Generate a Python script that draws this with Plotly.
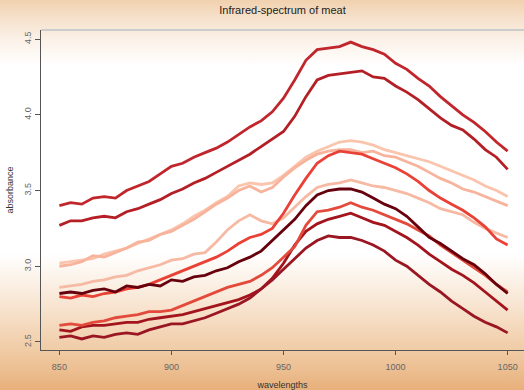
import base64
import plotly.graph_objects as go

wavelengths = list(range(850, 1051, 5))

L1 = [3.40, 3.42, 3.41, 3.45, 3.46, 3.45, 3.50, 3.53, 3.56, 3.61, 3.66, 3.68, 3.72, 3.75, 3.78, 3.82, 3.87, 3.92, 3.96, 4.02,
      4.11, 4.23, 4.36, 4.43, 4.44, 4.45, 4.48, 4.45, 4.43, 4.40, 4.34, 4.30, 4.24, 4.19, 4.12, 4.06, 4.00, 3.95, 3.89, 3.82, 3.76]
L2 = [3.27, 3.30, 3.30, 3.32, 3.33, 3.32, 3.36, 3.38, 3.41, 3.44, 3.48, 3.51, 3.55, 3.58, 3.62, 3.66, 3.70, 3.74, 3.79, 3.84,
      3.89, 3.99, 4.12, 4.23, 4.26, 4.27, 4.28, 4.29, 4.25, 4.24, 4.19, 4.15, 4.10, 4.04, 3.98, 3.93, 3.90, 3.84, 3.77, 3.72, 3.64]
P1 = [3.02, 3.03, 3.04, 3.05, 3.08, 3.10, 3.12, 3.15, 3.18, 3.21, 3.24, 3.28, 3.33, 3.37, 3.42, 3.46, 3.53, 3.55, 3.54, 3.55,
      3.60, 3.66, 3.72, 3.76, 3.79, 3.82, 3.83, 3.82, 3.80, 3.77, 3.75, 3.73, 3.71, 3.69, 3.66, 3.63, 3.60, 3.57, 3.53, 3.50, 3.46]
P2 = [3.00, 3.01, 3.03, 3.07, 3.06, 3.09, 3.12, 3.16, 3.17, 3.21, 3.23, 3.27, 3.31, 3.36, 3.41, 3.45, 3.50, 3.53, 3.49, 3.52,
      3.59, 3.65, 3.70, 3.74, 3.76, 3.77, 3.77, 3.75, 3.76, 3.73, 3.72, 3.69, 3.66, 3.62, 3.58, 3.55, 3.51, 3.49, 3.46, 3.43, 3.40]
P3 = [2.86, 2.87, 2.88, 2.90, 2.91, 2.93, 2.94, 2.97, 2.99, 3.01, 3.04, 3.05, 3.08, 3.09, 3.16, 3.24, 3.30, 3.34, 3.30, 3.28,
      3.32, 3.39, 3.46, 3.52, 3.54, 3.55, 3.57, 3.55, 3.53, 3.52, 3.50, 3.48, 3.45, 3.42, 3.38, 3.36, 3.34, 3.29, 3.25, 3.22, 3.19]
RO1 = [2.80, 2.79, 2.81, 2.80, 2.82, 2.83, 2.85, 2.86, 2.88, 2.91, 2.94, 2.97, 3.00, 3.03, 3.06, 3.10, 3.15, 3.19, 3.21, 3.25,
       3.35, 3.47, 3.58, 3.68, 3.73, 3.76, 3.75, 3.74, 3.71, 3.68, 3.65, 3.61, 3.56, 3.50, 3.45, 3.41, 3.37, 3.32, 3.26, 3.18, 3.14]
M = [2.82, 2.83, 2.82, 2.84, 2.85, 2.83, 2.87, 2.86, 2.88, 2.87, 2.91, 2.90, 2.93, 2.94, 2.97, 2.99, 3.03, 3.06, 3.10, 3.17,
     3.24, 3.31, 3.40, 3.47, 3.50, 3.51, 3.51, 3.49, 3.45, 3.41, 3.38, 3.33, 3.26, 3.19, 3.15, 3.10, 3.05, 3.01, 2.95, 2.88, 2.82]
RO2 = [2.61, 2.62, 2.61, 2.63, 2.64, 2.66, 2.67, 2.68, 2.70, 2.70, 2.71, 2.74, 2.77, 2.80, 2.83, 2.86, 2.88, 2.90, 2.94, 2.99,
       3.06, 3.13, 3.27, 3.36, 3.37, 3.39, 3.42, 3.39, 3.37, 3.34, 3.31, 3.28, 3.24, 3.20, 3.14, 3.09, 3.04, 2.99, 2.94, 2.88, 2.83]
DR1 = [2.58, 2.57, 2.60, 2.61, 2.61, 2.62, 2.63, 2.63, 2.65, 2.66, 2.67, 2.68, 2.70, 2.72, 2.74, 2.76, 2.78, 2.81, 2.85, 2.92,
       3.02, 3.14, 3.23, 3.28, 3.31, 3.33, 3.35, 3.32, 3.29, 3.27, 3.23, 3.19, 3.14, 3.08, 3.03, 2.98, 2.94, 2.89, 2.83, 2.77, 2.71]
DR2 = [2.53, 2.54, 2.52, 2.54, 2.53, 2.55, 2.56, 2.55, 2.58, 2.60, 2.62, 2.62, 2.64, 2.66, 2.69, 2.72, 2.75, 2.79, 2.85, 2.91,
       2.98, 3.05, 3.12, 3.17, 3.20, 3.19, 3.19, 3.17, 3.14, 3.10, 3.04, 3.00, 2.94, 2.88, 2.83, 2.77, 2.72, 2.67, 2.63, 2.60, 2.56]

series = [P1, P2, P3, L1, L2, DR1, DR2, RO1, RO2, M]
colors = ["#FBC4AC", "#F7B39C", "#F6B9A3", "#C0262C", "#B41F26", "#A3141C", "#9A1622", "#EA4136", "#E44A3C", "#67000D"]

fig = go.Figure()
for s, c in zip(series, colors):
    fig.add_trace(go.Scatter(x=wavelengths, y=s, mode="lines",
                             line=dict(color=c, width=2.8), showlegend=False, hoverinfo="skip"))

W, H = 524, 390
ml, mr, mt, mb = 41, 0, 30, 40
pw, ph = W - ml - mr, H - mt - mb

svg = (
    '<svg xmlns="http://www.w3.org/2000/svg" width="524" height="390" preserveAspectRatio="none" viewBox="0 0 524 390">'
    '<defs><linearGradient id="g" x1="0" y1="0" x2="0" y2="1">'
    '<stop offset="0" stop-color="#F1D1AE"/>'
    '<stop offset="0.05" stop-color="#F6E2CD"/>'
    '<stop offset="0.10" stop-color="#FBF1E7"/>'
    '<stop offset="0.17" stop-color="#FFFFFF"/>'
    '<stop offset="0.65" stop-color="#FFFFFF"/>'
    '<stop offset="0.78" stop-color="#F8E5D2"/>'
    '<stop offset="0.90" stop-color="#F0CBA5"/>'
    '<stop offset="1" stop-color="#E8B07B"/>'
    '</linearGradient></defs>'
    '<rect x="0" y="0" width="524" height="390" fill="url(#g)"/></svg>'
)
src = "data:image/svg+xml;base64," + base64.b64encode(svg.encode()).decode()

fig.add_layout_image(dict(source=src, xref="paper", yref="paper",
                          x=-ml / pw, y=1 + mt / ph, sizex=W / pw, sizey=H / ph,
                          xanchor="left", yanchor="top", sizing="stretch", layer="below"))

fig.add_shape(type="line", xref="paper", yref="paper", x0=0, x1=1, y0=1, y1=1,
              line=dict(color="#CCCCCC", width=2))

font = "Liberation Sans, Arial, sans-serif"
fig.update_layout(
    width=W, height=H,
    margin=dict(l=ml, r=mr, t=mt, b=mb),
    paper_bgcolor="white", plot_bgcolor="rgba(0,0,0,0)",
    title=dict(text="Infrared-spectrum of meat", x=(ml + pw / 2) / W, xanchor="center",
               y=1 - 10 / H, yanchor="middle", font=dict(family=font, size=11, color="#222222")),
    font=dict(family=font, size=9, color="#444444"),
)
fig.update_xaxes(range=[841.8, 1057.3], tickvals=[850, 900, 950, 1000, 1050],
                 ticks="outside", ticklen=4, tickcolor="#555555", showgrid=False, zeroline=False,
                 showline=True, linecolor="#555555", linewidth=1, ticklabelstandoff=4,
                 title=dict(text="wavelengths", font=dict(size=9, color="#333333"), standoff=12),
                 tickfont=dict(size=9, color="#666666"))
fig.update_yaxes(range=[2.447, 4.56], tickvals=[2.5, 3.0, 3.5, 4.0, 4.5], ticktext=["2.5", "3.0", "3.5", "4.0", "4.5"],
                 ticks="outside", ticklen=5, tickcolor="#555555", showgrid=False, zeroline=False,
                 showline=True, linecolor="#555555", linewidth=1, tickangle=-90,
                 title=dict(text="absorbance", font=dict(size=9, color="#333333"), standoff=8),
                 tickfont=dict(size=9, color="#666666"))

fig.write_html("out.html")
